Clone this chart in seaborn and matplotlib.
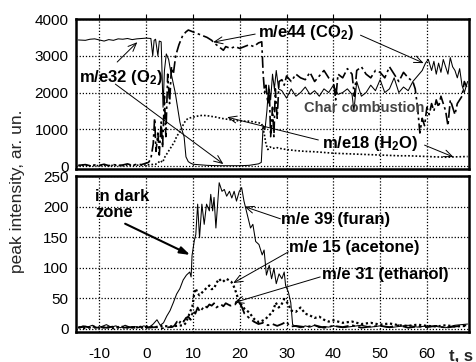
import matplotlib
matplotlib.use("Agg")
import matplotlib.pyplot as plt
import seaborn as sns
import pandas as pd

# ---------------- data ----------------
# top panel: m/e32 (O2), solid
t_o2 = [-14.5, -13, -12, -11, -10, -9, -8, -7, -6, -5, -4, -3, -2, -1, 0, 1, 1.4, 1.7, 2.0, 2.5,
        2.8, 3.2, 3.6, 3.9, 4.3, 4.8, 5.2, 5.7, 6.2, 6.7, 7.2, 7.6, 8.1, 8.5, 9, 9.5, 10, 11, 12,
        13, 14, 16, 18, 20, 22, 23, 24, 24.6, 25, 25.4, 25.8, 26.2, 26.6, 27, 27.4, 27.8, 28.3,
        29, 30, 31, 32, 33, 34, 35, 36, 37, 38, 39, 40, 41, 42, 43, 44, 44.4, 45, 46, 47, 48, 49,
        50, 51, 52, 53, 54, 55, 56, 57, 58, 59, 59.7, 60.3, 61, 61.5, 62, 62.5, 63, 63.5, 64,
        64.5, 65, 65.5, 66, 66.5, 67, 67.5, 68, 68.7]
o2 = [3430, 3420, 3450, 3460, 3430, 3400, 3440, 3420, 3460, 3450, 3470, 3440, 3460, 3470, 3480,
      3470, 3000, 3420, 3450, 3000, 3400, 3380, 1600, 2600, 3050, 2900, 2600, 2300, 2000, 1600,
      1200, 1000, 800, 250, 120, 80, 50, 40, 30, 20, 15, 10, 10, 10, 20, 40, 60, 100, 1100, 1000,
      1500, 2200, 1800, 2500, 2100, 2600, 2100, 2050, 1850, 2100, 1900, 2000, 2150, 1950, 2050,
      1900, 2100, 2000, 2200, 1950, 2000, 2100, 1950, 1500, 2300, 1900, 2000, 2200, 2050, 2350,
      2000, 2100, 2400, 2000, 2150, 2050, 2300, 2450, 2600, 2800, 2900, 2600, 2850, 2500, 2800,
      2550, 2900, 2700, 2500, 2950, 2700, 2600, 2400, 2650, 2200, 2000, 2300]

# top panel: m/e44 (CO2), dash-dot
t_co2 = [-14.5, -13, -12, -11, -10, -9, -8, -7, -6, -5, -4, -3, -2, -1, 0, 0.5, 1, 1.5, 1.8, 2.1,
         2.5, 2.8, 3.2, 3.5, 3.9, 4.2, 4.6, 5.0, 5.4, 5.8, 6.3, 7, 7.8, 8.5, 9, 10, 11, 12, 13, 14,
         14.5, 15, 16, 16.5, 17, 18, 19, 20, 21, 22, 23, 24, 24.7, 25, 25.3, 25.6, 26, 26.3, 26.6,
         27, 27.3, 27.6, 28, 28.4, 29, 29.5, 30, 31, 32, 33, 34, 35, 36, 37, 38, 39, 40, 40.5, 41,
         42, 43, 44, 44.5, 45, 46, 47, 48, 49, 50, 51, 52, 53, 54, 55, 56, 57, 57.5, 58, 58.5, 59,
         59.5, 60, 60.5, 61, 61.5, 62, 62.5, 63, 63.5, 64, 64.5, 65, 65.5, 66, 66.5, 67, 67.5, 68,
         68.7]
co2 = [20, 40, 10, 30, 20, 50, 10, 40, 20, 30, 60, 20, 50, 40, 80, 100, 200, 600, 1300, 400, 900,
       300, 1200, 500, 1900, 800, 2500, 1700, 2700, 2500, 3000, 3300, 3550, 3650, 3700, 3650, 3600,
       3550, 3500, 3420, 3350, 3300, 3200, 3150, 3250, 3200, 3250, 3200, 3250, 3300, 3250, 3350,
       3380, 2500, 2000, 2200, 1700, 2100, 800, 1600, 800, 2100, 1300, 2300, 2350, 2200, 2450, 2300,
       2500, 2400, 2350, 2550, 2300, 2450, 2600, 2400, 2350, 1800, 2500, 2400, 2650, 2500, 1900,
       2600, 2700, 2500, 2400, 2600, 2550, 2400, 2700, 2500, 2300, 2550, 2400, 2300, 2100, 1600,
       900, 1300, 1100, 1600, 1400, 1700, 1500, 1800, 1600, 1900, 1700, 1500, 1100, 1800, 1600,
       1400, 1700, 1800, 1900, 2300, 2100]

# top panel: m/e18 (H2O), dotted
t_h2o = [-14.5, -13, -12, -11, -10, -9, -8, -7, -6, -5, -4, -3, -2, -1, 0, 1, 2, 2.5, 3, 3.5, 4,
         4.5, 5, 5.5, 6, 6.5, 7, 7.5, 8, 8.5, 9, 10, 11, 12, 13, 14, 15, 16, 17, 18, 19, 20, 21,
         22, 23, 24, 24.7, 25.2, 25.6, 26, 26.5, 27, 28, 29, 30, 32, 34, 36, 38, 40, 42, 44, 46,
         48, 50, 52, 54, 56, 58, 60, 62, 64, 66, 68.7]
h2o = [10, 20, 5, 15, 10, 25, 10, 20, 15, 10, 30, 15, 25, 20, 30, 40, 50, 80, 150, 100, 250, 350,
       450, 550, 650, 800, 900, 1000, 1150, 1250, 1300, 1330, 1360, 1380, 1370, 1350, 1330, 1300,
       1280, 1260, 1240, 1230, 1220, 1220, 1200, 1180, 1150, 900, 600, 450, 520, 480, 500, 470,
       450, 420, 400, 390, 370, 350, 340, 330, 320, 310, 300, 290, 280, 280, 270, 260, 250, 240,
       250, 260]

# bottom panel: m/e 39 (furan), solid
t_fur = [-14.5, -13.5, -12.5, -11.5, -10.5, -9.5, -8.5, -7.5, -6.5, -5.5, -4.5, -3.5, -2.5, -1.5,
         -0.5, 0.3, 0.85, 1.5, 2.3, 3.0, 3.7, 4.4, 5.1, 5.8, 6.5, 7.2, 7.9, 8.6, 9.3, 9.6, 9.8,
         10.3, 10.6, 11.0, 11.4, 11.9, 12.4, 12.9, 13.5, 13.8, 14.2, 14.5, 14.9, 15.6, 16.2, 16.7,
         17.2, 17.8, 18.3, 18.8, 19.3, 19.9, 20.4, 20.9, 21.6, 22.3, 22.8, 23.4, 24.1, 24.8, 25.2,
         25.7, 26.3, 26.8, 27.3, 27.8, 28.4, 29.0, 29.5, 29.8, 30.4, 30.9, 31.3, 32, 33, 34, 35,
         36, 37, 38, 39, 40, 42, 44, 46, 48, 50, 52, 54, 56, 58, 60, 62, 64, 66, 68.7]
furan = [2, 5, 3, 6, 2, 4, 7, 3, 5, 2, 6, 3, 4, 2, 5, 3, 4, 8, 15, 6, 10, 21, 30, 43, 57, 66, 80,
         88, 93, 85, 120, 145, 154, 204, 149, 204, 171, 204, 193, 220, 193, 215, 165, 239, 225, 228,
         217, 225, 214, 225, 209, 225, 231, 209, 187, 165, 171, 143, 138, 121, 129, 88, 104, 82, 99,
         74, 90, 82, 93, 71, 60, 43, 7, 4, 2, 5, 3, 6, 2, 4, 3, 5, 2, 4, 6, 3, 5, 2, 4, 6, 3, 5, 4,
         2, 6, 8]

# bottom panel: m/e 15 (acetone), dotted
t_ace = [-14.5, -13, -11.5, -10, -8.5, -7, -5.5, -4, -2.5, -1, 0.5, 2, 3.5, 5, 6.5, 8, 8.5, 9,
         9.5, 9.9, 10.3, 10.6, 11, 11.4, 12, 12.4, 13, 13.5, 14, 14.5, 15, 15.6, 16, 16.4, 17.1,
         17.6, 18.2, 18.7, 19.2, 19.9, 20.5, 21, 22, 23.1, 24.1, 25, 25.5, 26.2, 27, 27.7, 28.3,
         28.8, 29.5, 30, 30.5, 31, 32, 33, 34, 35, 36, 37, 38, 39, 40, 42, 44, 46, 48, 50, 52, 54,
         56, 58, 60, 62, 64, 66, 68.7]
acetone = [3, 1, 4, 2, 3, 1, 4, 2, 3, 2, 4, 3, 5, 4, 5, 6, 10, 20, 30, 38, 60, 66, 58, 55, 60, 63,
           68, 71, 65, 66, 75, 82, 78, 77, 82, 80, 77, 70, 60, 43, 38, 33, 27, 16, 11, 14, 16, 22,
           27, 43, 35, 38, 49, 45, 38, 30, 28, 35, 25, 22, 18, 20, 15, 12, 14, 10, 12, 8, 10, 7, 9,
           6, 5, 7, 5, 4, 6, 4, 5]

# bottom panel: m/e 31 (ethanol), dash-dot
t_eth = [-14.5, -13, -11.5, -10, -8.5, -7, -5.5, -4, -2.5, -1, 0.5, 2, 3.5, 5, 5.5, 6, 6.6, 7, 7.5,
         8, 8.5, 9, 9.5, 10, 10.5, 11, 11.5, 12, 12.5, 13, 13.5, 14, 14.5, 15, 16, 16.5, 17, 18, 19,
         19.5, 20, 20.5, 21, 22, 23, 24, 25, 26, 27, 28, 29, 30, 30.5, 31, 32, 34, 36, 38, 40, 42,
         44, 46, 48, 50, 52, 54, 56, 58, 60, 62, 64, 66, 68.7]
ethanol = [2, 4, 1, 3, 2, 4, 1, 3, 2, 4, 2, 3, 1, 3, 3, 5, 12, 8, 15, 12, 18, 20, 15, 30, 25, 35,
           28, 33, 38, 35, 40, 38, 42, 35, 40, 37, 42, 38, 40, 45, 42, 35, 25, 18, 12, 8, 10, 6, 8,
           5, 8, 12, 6, 4, 5, 3, 6, 2, 5, 3, 6, 2, 4, 5, 3, 6, 2, 4, 3, 5, 2, 4, 6]

x_ticks = [-10, 0, 10, 20, 30, 40, 50, 60]
top_yticks = [0, 1000, 2000, 3000, 4000]
bot_yticks = [0, 50, 100, 150, 200, 250]

# ---------------- style ----------------
sns.set_style("white")
plt.rcParams["font.family"] = ["Liberation Sans", "DejaVu Sans"]
plt.rcParams["mathtext.fontset"] = "custom"
plt.rcParams["mathtext.rm"] = "Liberation Sans:bold"
plt.rcParams["mathtext.bf"] = "Liberation Sans:bold"
plt.rcParams["mathtext.default"] = "bf"

fig = plt.figure(figsize=(4.76, 3.62), dpi=100)
ax1 = fig.add_axes([0.1597, 0.5331, 0.8256, 0.4144])
ax2 = fig.add_axes([0.1597, 0.0829, 0.8256, 0.4309])

DASHDOT = (0, (7, 2, 1.5, 2))
DOT = (0, (1, 1.2))

sns.lineplot(x=t_o2, y=o2, ax=ax1, color="black", lw=0.75, sort=False, estimator=None)
sns.lineplot(x=t_co2, y=co2, ax=ax1, color="black", lw=1.2, linestyle=DASHDOT, sort=False, estimator=None)
sns.lineplot(x=t_h2o, y=h2o, ax=ax1, color="black", lw=1.2, linestyle=DOT, sort=False, estimator=None)

sns.lineplot(x=t_fur, y=furan, ax=ax2, color="black", lw=0.75, sort=False, estimator=None)
sns.lineplot(x=t_ace, y=acetone, ax=ax2, color="black", lw=1.6, linestyle=DOT, sort=False, estimator=None)
sns.lineplot(x=t_eth, y=ethanol, ax=ax2, color="black", lw=1.3, linestyle=DASHDOT, sort=False, estimator=None)

for ax, yt in ((ax1, top_yticks), (ax2, bot_yticks)):
    ax.set_xlim(-15, 69)
    ax.set_xticks(x_ticks)
    ax.set_yticks(yt)
    ax.grid(True, color="black", linestyle=(0, (1, 1.5)), lw=0.9)
    ax.set_axisbelow(True)
    for s in ax.spines.values():
        s.set_linewidth(1.8)
        s.set_color("black")
    ax.tick_params(axis="both", direction="out", length=3.5, width=0.8, labelsize=11,
                   colors="black", pad=2)
    ax.set_xlabel("")
    ax.set_ylabel("")

ax1.set_ylim(-80, 4000)
ax2.set_ylim(-5, 250)
ax1.tick_params(axis="x", labelbottom=False, bottom=False, top=True)
ax2.tick_params(axis="x", pad=7)
ax2.set_xticklabels([str(v) for v in x_ticks])

fig.text(0.036, 0.472, "peak intensity, ar. un.", rotation=90, ha="center", va="center",
         fontsize=12.5)
fig.text(0.943, 0.0166, "t, s", fontsize=12, fontweight="bold", ha="left", va="center")

AP = dict(arrowstyle="->,head_length=0.6,head_width=0.25", lw=0.7, color="black",
          shrinkA=0, shrinkB=0)
TK = dict(fontsize=12, fontweight="bold", color="black", va="center", ha="left")

# top annotations
ax1.text(-14.4, 2420, "m/e32 (O$_2$)", **TK)
ax1.annotate("", xy=(-1.9, 3370), xytext=(-6.2, 2830), arrowprops=AP)
ax1.annotate("", xy=(16.5, 55), xytext=(-6.6, 2230), arrowprops=AP)

ax1.text(24.0, 3620, "m/e44 (CO$_2$)", **TK)
ax1.annotate("", xy=(14.3, 3370), xytext=(23.3, 3590), arrowprops=AP)
ax1.annotate("", xy=(59.3, 2800), xytext=(45.8, 3560), arrowprops=AP)

ax1.text(46.5, 1580, "Char combustion", fontsize=10.5, fontweight="bold", color="#444444",
         ha="center", va="center")

ax1.text(37.5, 625, "m/e18 (H$_2$O)", **TK)
ax1.annotate("", xy=(17.3, 1330), xytext=(36.8, 710), arrowprops=AP)
ax1.annotate("", xy=(65.7, 245), xytext=(59.5, 570), arrowprops=AP)

# bottom annotations
ax2.text(-10.9, 203, "in dark\nzone", linespacing=1.1, **TK)
ax2.annotate("", xy=(9.4, 121), xytext=(-4.5, 172),
             arrowprops=dict(arrowstyle="-|>,head_length=0.6,head_width=0.2", lw=1.5,
                             color="black", shrinkA=0, shrinkB=0))

ax2.text(28.9, 179, "m/e 39 (furan)", **TK)
ax2.annotate("", xy=(21.0, 200), xytext=(28.7, 180), arrowprops=AP)
ax2.text(30.6, 133, "m/e 15 (acetone)", **TK)
ax2.annotate("", xy=(18.6, 75), xytext=(30.4, 126), arrowprops=AP)
ax2.text(37.5, 89, "m/e 31 (ethanol)", **TK)
ax2.annotate("", xy=(18.8, 43), xytext=(37.2, 85), arrowprops=AP)

fig.savefig("out.png", dpi=100)
